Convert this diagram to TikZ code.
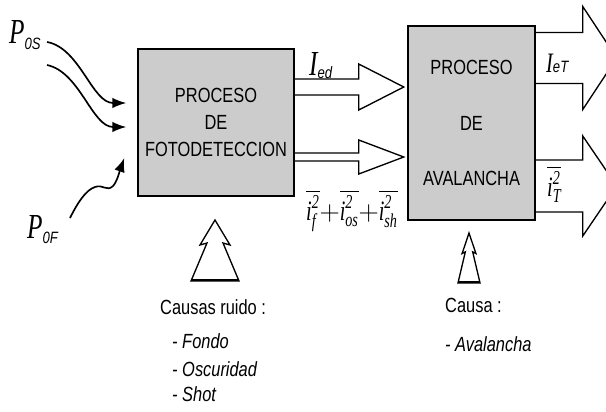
\RequirePackage{fix-cm}
\documentclass[tikz,border=0pt]{standalone}
\usepackage{amsmath}
\usepackage{fontspec}
\setmainfont{Liberation Sans}[FakeStretch=0.8]
\newfontfamily\serifit{Liberation Serif}[FakeStretch=0.72]
\usetikzlibrary{arrows.meta, calc, positioning}
\newcommand{\ti}[1]{\text{\serifit\itshape #1}}
\newcommand{\lbl}[3]{{\serifit\itshape #1}\raisebox{#3}{\fontsize{14}{14}\selectfont\itshape #2}}
% hollow block arrow: start, shaft length, shaft half width, head half width, head length
\newcommand{\blockarrow}[5]{%
	\draw[hollow] (#1) ++(0,-#3) -- ++(#2,0) -- ++(0,{#3-#4}) -- ++(#5,#4)
	-- ++(-#5,#4) -- ++(0,{#3-#4}) -- ++(-#2,0);}
\tikzset
{
proc/.style={draw, line width=0.45mm, fill=black!20, inner sep=0pt, align=center, font=\fontsize{17.5}{23}\selectfont},
hollow/.style={draw, line width=0.4mm, line join=miter},
ray/.style={line width=0.5mm, -{Latex[length=4.2mm, width=3.2mm]}},
sym/.style={inner sep=0pt, anchor=base west, font=\fontsize{30}{32}\selectfont},
caption/.style={inner sep=0pt, anchor=west, font=\fontsize{17.5}{20}\selectfont},
item/.style={caption, font=\fontsize{17.5}{20}\selectfont\itshape},
cause/.pic={
	\draw[hollow] (0,0) -- (-15,25) -- (-8,23) -- (-24,61) -- (24,61) -- (8,23) -- (15,25) -- cycle;
	\draw[line width=0.75mm] (-24,60) -- (24,60);
}
}

\begin{document}
\begin{tikzpicture}[x=0.3mm, y=-0.3mm]
	\clip (0,0) rectangle (606,411);

	\node[proc, minimum width=46.8mm, minimum height=44.1mm] (fd) at (216,122.5) {PROCESO\\DE\\FOTODETECCION};
	\node[proc, minimum width=38.1mm, minimum height=58.2mm, font=\fontsize{17.5}{47}\selectfont] (av) at (471.5,123) {PROCESO\\DE\\AVALANCHA};

	\coordinate (o1) at ($(fd.east)+(0,-35.5)$);
	\coordinate (o2) at ($(fd.east)+(0,34.5)$);
	\coordinate (o3) at ($(av.east)+(0,-65)$);
	\coordinate (o4) at ($(av.east)+(0,63)$);
	\blockarrow{o1}{64}{8}{23}{45}
	\blockarrow{o2}{64}{4}{17}{45}
	\blockarrow{o3}{47}{25.5}{51.5}{34}
	\blockarrow{o4}{47}{26}{50}{34}

	\node[sym] (p0s) at (9,43) {\lbl{P}{0S}{-2mm}};
	\node[sym] (p0f) at (27,238) {\lbl{P}{0F}{-1.5mm}};
	\node[sym] (ied) at (309,75) {\lbl{I}{ed}{-1mm}};
	\node[sym, font=\fontsize{24}{26}\selectfont] (iet) at (546,72) {\lbl{I}{eT}{0mm}};
	\node[sym, font=\fontsize{24}{26}\selectfont] (noise) at (306,220)
		{$\overline{\ti{i}^{\ti{2}}_{\ti{f}}}\mathbf{+}\overline{\ti{i}^{\ti{2}}_{\ti{os}}}\mathbf{+}\overline{\ti{i}^{\ti{2}}_{\ti{sh}}}$};
	\node[sym, font=\fontsize{24}{26}\selectfont] (itot) at (547,196) {$\overline{\ti{i}^{\ti{2}}_{\ti{T}}}$};

	% incoming light
	\coordinate (s1) at (47,42);
	\coordinate (s2) at (47,65);
	\coordinate (s3) at (70,218);
	\coordinate (t1) at ($(fd.west)+(-11,-19.5)$);
	\coordinate (t2) at ($(fd.west)+(-11,4.5)$);
	\coordinate (t3) at ($(fd.west)+(-13,35.5)$);
	\draw[ray] (s1) .. controls (80,48) and (92,103) .. (t1);
	\draw[ray] (s2) .. controls (80,72) and (92,127) .. (t2);
	\draw[ray] (s3) .. controls (78,202) and (86,190) .. (95,187) .. controls (103,184) and (107,192) .. (113,186) .. controls (117,182) and (120,170) .. (t3);

	\pic at (215,220) {cause};
	\pic[xscale=0.46, yscale=0.82] at (469,233) {cause};

	\node[caption] (c1) at (160,307) {Causas ruido :};
	\node[item] (f1) at (172,341) {- Fondo};
	\node[item] (f2) at (172,369) {- Oscuridad};
	\node[item] (f3) at (172,394) {- Shot};
	\node[caption] (c2) at (445,305) {Causa :};
	\node[item] (f4) at (445,344) {- Avalancha};
\end{tikzpicture}
\end{document}
